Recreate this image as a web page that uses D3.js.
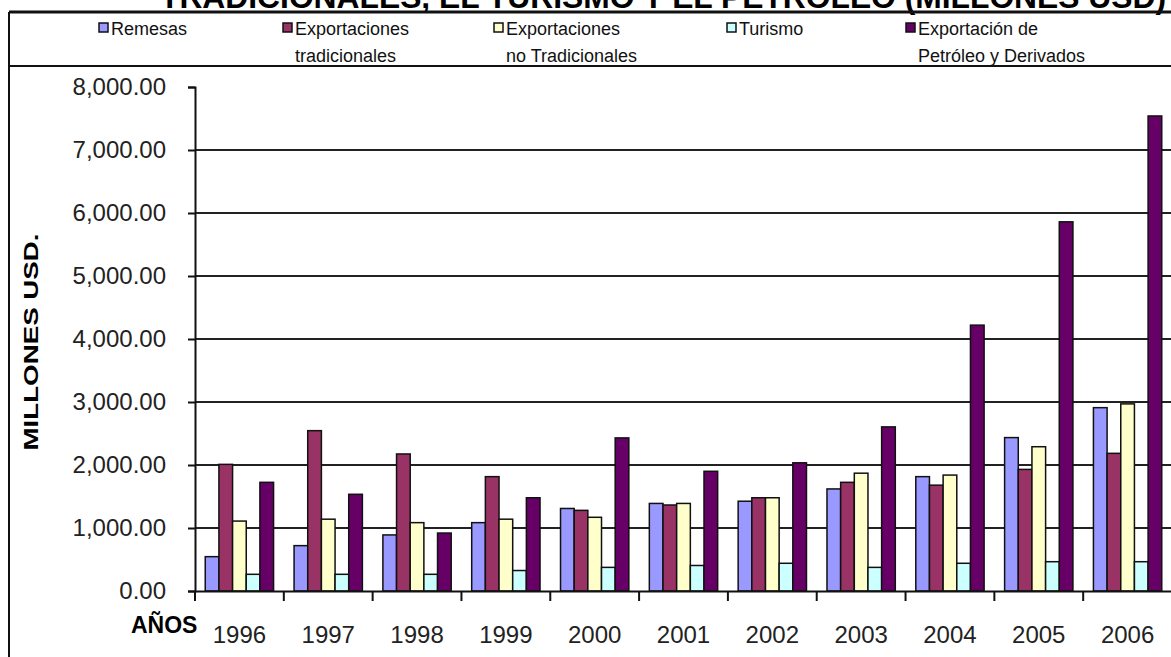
<html>
<head>
<script src="https://cdnjs.cloudflare.com/ajax/libs/d3/7.8.5/d3.min.js"></script>
<style>
body { margin: 0; background: white; }
svg { font-family: "Liberation Sans", Arial, sans-serif; }
</style>
</head>
<body>
<svg id="canvas" width="1171" height="657"></svg>
<script>
// data (millones USD)
var years = ["1996","1997","1998","1999","2000","2001","2002","2003","2004","2005","2006"];
var remesas   = [545, 720, 890, 1085, 1310, 1390, 1425, 1620, 1815, 2435, 2910];
var exTrad    = [2010, 2545, 2175, 1815, 1280, 1365, 1480, 1725, 1680, 1930, 2185];
var exNoTrad  = [1110, 1140, 1085, 1140, 1170, 1390, 1480, 1870, 1840, 2290, 2970];
var turismo   = [265, 265, 265, 325, 375, 405, 440, 375, 440, 465, 465];
var petroleo  = [1725, 1535, 920, 1480, 2430, 1900, 2035, 2605, 4220, 5860, 7540];
var yTicks = [0, 1000, 2000, 3000, 4000, 5000, 6000, 7000, 8000];

var seriesNames = ["Remesas", "Exportaciones tradicionales", "Exportaciones no Tradicionales", "Turismo", "Exportación de Petróleo y Derivados"];
var legendLines = [["Remesas"], ["Exportaciones", "tradicionales"], ["Exportaciones", "no Tradicionales"], ["Turismo"], ["Exportación de", "Petróleo y Derivados"]];
var colors = ["#9999ff", "#993366", "#ffffcc", "#ccffff", "#660066"];
var allSeries = [remesas, exTrad, exNoTrad, turismo, petroleo];

var svg = d3.select("#canvas");

var x0 = d3.scaleBand().domain(years).range([195, 1172]).paddingInner(0).paddingOuter(0);
var x1 = d3.scaleBand().domain(d3.range(5)).range([0, x0.bandwidth()]).paddingInner(0).paddingOuter(0.75);
var y = d3.scaleLinear().domain([0, 8000]).range([591, 87]);

// title (top line cut off by the frame)
svg.append("text")
    .attr("x", 663).attr("y", 8)
    .attr("text-anchor", "middle")
    .attr("font-weight", "bold").attr("font-size", 31)
    .attr("textLength", 1006).attr("lengthAdjust", "spacingAndGlyphs")
    .text("TRADICIONALES, EL TURISMO Y EL PETROLEO (MILLONES USD)");

// gridlines
svg.append("g").selectAll("line")
    .data(yTicks.filter(function(d) { return d > 0 && d < 8000; }))
    .enter().append("line")
    .attr("x1", 195).attr("x2", 1171)
    .attr("y1", function(d) { return y(d); }).attr("y2", function(d) { return y(d); })
    .attr("stroke", "#222").attr("stroke-width", 2);

// bars
var groups = svg.append("g").selectAll("g")
    .data(years).enter().append("g")
    .attr("transform", function(d) { return "translate(" + x0(d) + ",0)"; });

groups.selectAll("rect")
    .data(function(d, i) { return allSeries.map(function(s, k) { return {k: k, v: s[i]}; }); })
    .enter().append("rect")
    .attr("x", function(d) { return x1(d.k); })
    .attr("width", x1.bandwidth())
    .attr("y", function(d) { return y(d.v); })
    .attr("height", function(d) { return y(0) - y(d.v); })
    .attr("fill", function(d) { return colors[d.k]; })
    .attr("stroke", "#111").attr("stroke-width", 1.5);

// y axis
var yAxis = d3.axisLeft(y).tickValues(yTicks).tickSize(7).tickPadding(22)
    .tickFormat(d3.format(",.2f"));
var gy = svg.append("g").attr("transform", "translate(195,0)").call(yAxis);
gy.select(".domain").attr("stroke", "#111").attr("stroke-width", 2);
gy.selectAll(".tick line").attr("stroke", "#111").attr("stroke-width", 2);
gy.selectAll(".tick text")
    .attr("font-family", "Liberation Sans, Arial, sans-serif")
    .attr("font-size", 24).attr("fill", "#222");

// x axis
var xAxis = d3.axisBottom(x0).tickSize(0).tickFormat("");
var gx = svg.append("g").attr("transform", "translate(0,591)").call(xAxis);
gx.select(".domain").attr("stroke", "#111").attr("stroke-width", 2);
svg.append("g").selectAll("line")
    .data(years).enter().append("line")
    .attr("x1", function(d) { return x0(d); }).attr("x2", function(d) { return x0(d); })
    .attr("y1", 591).attr("y2", 601)
    .attr("stroke", "#111").attr("stroke-width", 2);
svg.append("g").selectAll("text")
    .data(years).enter().append("text")
    .attr("x", function(d) { return x0(d) + x0.bandwidth() / 2; })
    .attr("y", 643)
    .attr("text-anchor", "middle")
    .attr("font-size", 24).attr("fill", "#222")
    .text(function(d) { return d; });

// axis titles
svg.append("text")
    .attr("x", 131).attr("y", 633)
    .attr("font-weight", "bold").attr("font-size", 23)
    .text("AÑOS");
svg.append("text")
    .attr("transform", "translate(38,342) rotate(-90)")
    .attr("text-anchor", "middle")
    .attr("font-weight", "bold").attr("font-size", 21)
    .attr("textLength", 217).attr("lengthAdjust", "spacingAndGlyphs")
    .text("MILLONES USD.");

// frame + legend box
svg.append("line").attr("x1", 9).attr("x2", 9).attr("y1", 12).attr("y2", 657)
    .attr("stroke", "#111").attr("stroke-width", 2);
svg.append("line").attr("x1", 9).attr("x2", 1171).attr("y1", 12).attr("y2", 12)
    .attr("stroke", "#111").attr("stroke-width", 3);
svg.append("line").attr("x1", 9).attr("x2", 1171).attr("y1", 66).attr("y2", 66)
    .attr("stroke", "#111").attr("stroke-width", 2);

var legendX = [99, 283, 494, 727, 906];
var leg = svg.append("g").selectAll("g")
    .data(seriesNames).enter().append("g")
    .attr("transform", function(d, i) { return "translate(" + legendX[i] + ",0)"; });
leg.append("rect")
    .attr("x", 0).attr("y", 23).attr("width", 9).attr("height", 9)
    .attr("fill", function(d, i) { return colors[i]; })
    .attr("stroke", "#111").attr("stroke-width", 1.5);
leg.append("text")
    .attr("font-size", 18).attr("fill", "#111")
    .selectAll("tspan")
    .data(function(d, i) { return legendLines[i]; })
    .enter().append("tspan")
    .attr("x", 12)
    .attr("y", function(d, j) { return 35 + j * 27; })
    .text(function(d) { return d; });
</script>
</body>
</html>
